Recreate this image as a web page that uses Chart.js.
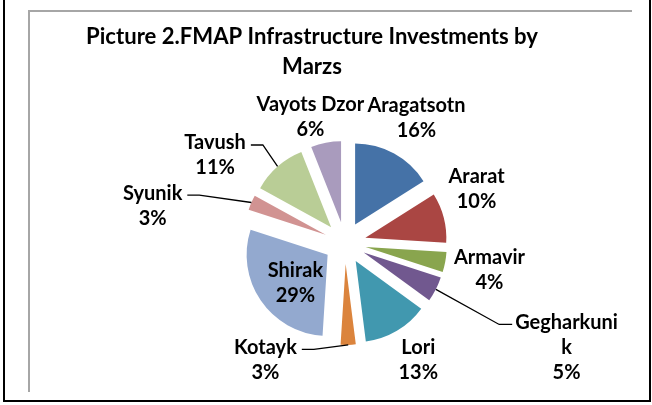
<!DOCTYPE html>
<html>
<head>
<meta charset="utf-8">
<script src="https://cdn.jsdelivr.net/npm/chart.js@4.4.1/dist/chart.umd.min.js"></script>
<style>
  html, body { margin: 0; padding: 0; background: #fff; }
  #wrap { width: 652px; height: 405px; }
</style>
</head>
<body>
<div id="wrap"><canvas id="pieChart" width="652" height="405"></canvas></div>
<script>
/* data */
const marzs = ['Aragatsotn', 'Ararat', 'Armavir', 'Gegharkunik', 'Lori',
               'Kotayk', 'Shirak', 'Syunik', 'Tavush', 'Vayots Dzor'];
const shares = [16, 10, 4, 5, 13, 3, 29, 3, 11, 6];
const titleLines = ['Picture 2.FMAP Infrastructure Investments by', 'Marzs'];
// how the category names wrap in the data labels
const labelText = [['Aragatsotn'], ['Ararat'], ['Armavir'], ['Gegharkuni', 'k'], ['Lori'],
                   ['Kotayk'], ['Shirak'], ['Syunik'], ['Tavush'], ['Vayots Dzor']];

/* styling */
const sliceColors = ['#4572A7', '#AA4643', '#89A54E', '#71588F', '#4198AF',
                     '#DB843D', '#93A9CF', '#D19392', '#B9CD96', '#A99BBD'];
const explode = 21;
const labelDist = [142, 142, 142, 142, 142, 142, 66, 142, 142, 142];
const labelShift = [[3, -1], [-6, -19], [5, 0], [95, 40], [1, -5],
                    [-84, -25], [5, 3], [-62, 19], [-36, 19], [-8, 14]];
const hasLeader = [false, false, false, true, false, true, false, true, true, false];
const lineGap = 25;

function fitSize(ctx, text, target, base) {
  ctx.font = 'bold ' + base + 'px Lato';
  return base * target / ctx.measureText(text).width;
}

/* frame like the pasted Excel picture */
const framePlugin = {
  id: 'frame',
  beforeDraw(chart) {
    const ctx = chart.ctx;
    ctx.save();
    ctx.fillStyle = '#fff';
    ctx.fillRect(0, 0, chart.width, chart.height);
    ctx.strokeStyle = '#a6a6a6';
    ctx.lineWidth = 2;
    ctx.beginPath();
    ctx.moveTo(29, 392); ctx.lineTo(29, 11); ctx.lineTo(632, 11);
    ctx.stroke();
    ctx.strokeStyle = '#000';
    ctx.beginPath();
    ctx.moveTo(4, 0); ctx.lineTo(4, 401); ctx.lineTo(650, 401); ctx.lineTo(650, 0);
    ctx.stroke();
    ctx.restore();
  }
};

/* every slice pulled out from the centre */
const explodePlugin = {
  id: 'explode',
  beforeDatasetDraw(chart, args) {
    const ctx = chart.ctx;
    args.meta.data.forEach(arc => {
      const mid = (arc.startAngle + arc.endAngle) / 2;
      ctx.save();
      ctx.translate(Math.cos(mid) * explode, Math.sin(mid) * explode);
      arc.draw(ctx);
      ctx.restore();
    });
    return false;
  }
};

/* title + data labels with leader lines */
const labelPlugin = {
  id: 'pieLabels',
  afterDatasetsDraw(chart) {
    const ctx = chart.ctx;
    const arcs = chart.getDatasetMeta(0).data;
    ctx.save();
    ctx.fillStyle = '#000';
    ctx.textAlign = 'center';
    ctx.textBaseline = 'middle';

    const tSize = fitSize(ctx, titleLines[0], 452, 22);
    ctx.font = 'bold ' + tSize + 'px Lato';
    titleLines.forEach((t, i) => ctx.fillText(t, 312, 37 + i * 30));

    const lSize = fitSize(ctx, 'Armavir', 71, 21);
    ctx.font = 'bold ' + lSize + 'px Lato';
    ctx.strokeStyle = '#000';
    ctx.lineWidth = 1.3;

    arcs.forEach((arc, i) => {
      const p = arc.getProps(['x', 'y', 'startAngle', 'endAngle', 'outerRadius'], true);
      const mid = (p.startAngle + p.endAngle) / 2;
      const dx = Math.cos(mid), dy = Math.sin(mid);
      const lines = labelText[i].concat([shares[i] + '%']);
      const cx = p.x + dx * labelDist[i] + labelShift[i][0];
      const cy = p.y + dy * labelDist[i] + labelShift[i][1];
      const top = cy - (lines.length - 1) * lineGap / 2;
      lines.forEach((s, k) => ctx.fillText(s, cx, top + k * lineGap));

      if (hasLeader[i]) {
        const w = Math.max(...lines.map(s => ctx.measureText(s).width));
        const px = p.x + dx * (p.outerRadius + explode);
        const py = p.y + dy * (p.outerRadius + explode);
        const right = cx > p.x;
        const ex = right ? cx - w / 2 - 3 : cx + w / 2 + 5;
        const ey = top + 2;
        const kx = right ? ex - 13 : ex + 12;
        ctx.beginPath();
        ctx.moveTo(px, py); ctx.lineTo(kx, ey); ctx.lineTo(ex, ey);
        ctx.stroke();
      }
    });
    ctx.restore();
  }
};

new Chart(document.getElementById('pieChart'), {
  type: 'pie',
  data: {
    labels: marzs,
    datasets: [{
      data: shares,
      backgroundColor: sliceColors,
      borderWidth: 0,
      radius: 81
    }]
  },
  options: {
    responsive: false,
    animation: false,
    layout: { padding: { left: 60, right: 22, top: 100, bottom: 19 } },
    plugins: {
      legend: { display: false },
      title: { display: false },
      tooltip: { enabled: false }
    }
  },
  plugins: [framePlugin, explodePlugin, labelPlugin]
});
</script>
</body>
</html>
